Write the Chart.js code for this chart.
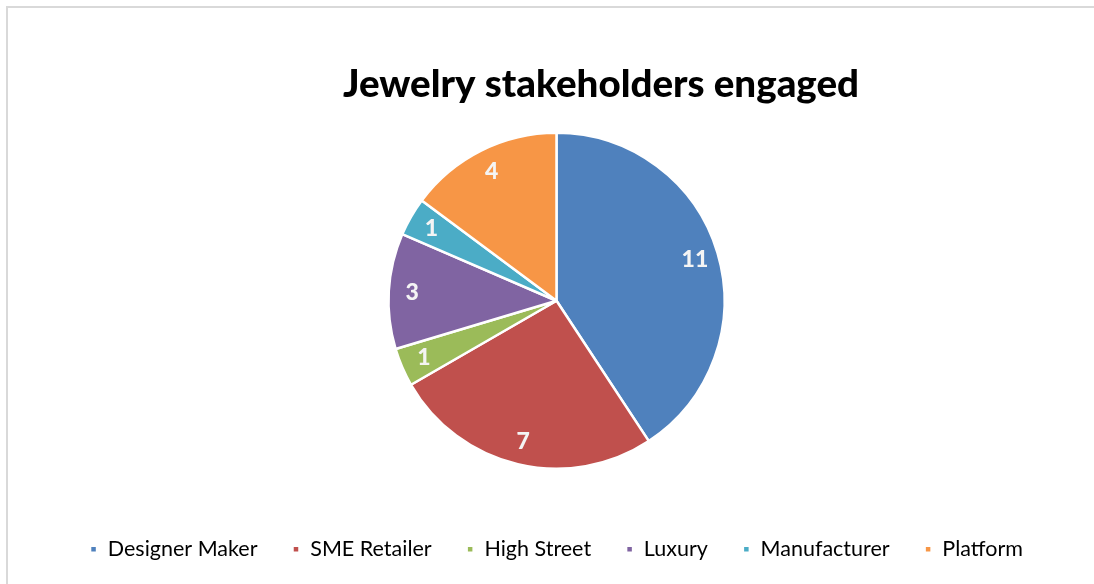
<!DOCTYPE html>
<html>
<head>
<meta charset="utf-8">
<script src="https://cdn.jsdelivr.net/npm/chart.js@4"></script>
<style>
    html, body { margin: 0; padding: 0; background: #fff; overflow: hidden; }
    #wrap { position: relative; width: 1094px; height: 584px; }
    #frame { position: absolute; left: 6px; top: 6px; width: 1200px; height: 700px; border: 2px solid #d9d9d9; }
    canvas { position: absolute; left: 0; top: 0; }
</style>
</head>
<body>
<div id="wrap">
    <div id="frame"></div>
    <canvas id="pie" width="1094" height="584"></canvas>
</div>
<script>
const chartTitle = "Jewelry stakeholders engaged";
const categories = ["Designer Maker", "SME Retailer", "High Street", "Luxury", "Manufacturer", "Platform"];
const counts = [11, 7, 1, 3, 1, 4];
const sliceColors = ["#4F81BD", "#C0504D", "#9BBB59", "#8064A2", "#4BACC6", "#F79646"];

// title sits to the right of the pie centre, so draw it ourselves
const titlePlugin = {
    id: "offsetTitle",
    afterDraw(chart) {
        const ctx = chart.ctx;
        ctx.save();
        ctx.font = "900 38.5px Lato";
        ctx.fillStyle = "#000";
        ctx.textAlign = "center";
        ctx.textBaseline = "alphabetic";
        ctx.fillText(chartTitle, 601, 97);
        ctx.restore();
    }
};

// value labels inside the slices
const valueLabels = {
    id: "valueLabels",
    afterDatasetsDraw(chart) {
        const ctx = chart.ctx;
        const meta = chart.getDatasetMeta(0);
        ctx.save();
        ctx.font = "900 23px Lato";
        ctx.fillStyle = "#f4f4f4";
        ctx.textAlign = "center";
        ctx.textBaseline = "middle";
        meta.data.forEach((arc, i) => {
            const p = arc.getProps(["x", "y", "startAngle", "endAngle", "outerRadius"], true);
            const mid = (p.startAngle + p.endAngle) / 2;
            const d = p.outerRadius * 0.86;
            ctx.fillText(String(counts[i]), p.x + Math.cos(mid) * d, p.y + Math.sin(mid) * d);
        });
        ctx.restore();
    }
};

new Chart(document.getElementById("pie"), {
    type: "pie",
    data: {
        labels: categories,
        datasets: [{
            data: counts,
            backgroundColor: sliceColors,
            borderColor: "#ffffff",
            borderWidth: 2.5,
            radius: 168
        }]
    },
    options: {
        responsive: false,
        animation: false,
        layout: { padding: { top: 98, bottom: 14, left: 19, right: 0 } },
        plugins: {
            title: { display: false },
            tooltip: { enabled: false },
            legend: {
                position: "bottom",
                labels: {
                    boxWidth: 7,
                    boxHeight: 7,
                    padding: 35,
                    color: "#000",
                    font: { family: "Lato", size: 21.5 }
                }
            }
        }
    },
    plugins: [valueLabels, titlePlugin]
});
</script>
</body>
</html>
